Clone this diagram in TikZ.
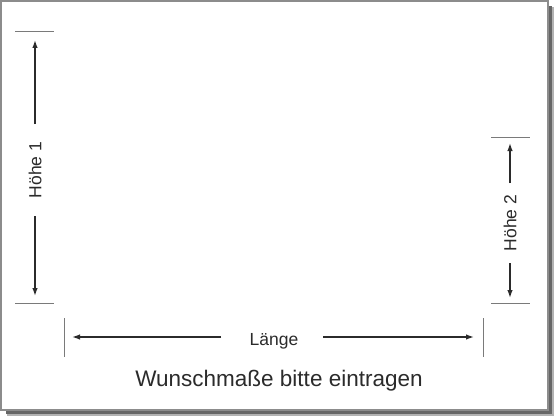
\documentclass[tikz,border=0pt]{standalone}
\usepackage{fontspec}
\setmainfont{Liberation Sans}
\usetikzlibrary{arrows.meta}
\definecolor{ink}{HTML}{2B2B2B}
\definecolor{tickgray}{HTML}{7A7A7A}
\definecolor{framegray}{HTML}{8C8C8C}
\tikzset{
  dimarrow/.style={draw=ink, line width=1.4pt, -{Latex[length=8pt,width=5.5pt]}},
  tickline/.style={draw=tickgray, line width=1pt},
  dimlabel/.style={text=ink, inner sep=0pt, font=\fontsize{17.5}{20}\selectfont},
  titlelabel/.style={text=ink, inner sep=0pt, font=\fontsize{22.5}{26}\selectfont},
}
\begin{document}
\begin{tikzpicture}[x=1pt,y=-1pt]
\useasboundingbox (0,0) rectangle (560,420);
\fill[white] (0,0) rectangle (560,420);
% shadow
\fill[black!30] (7,7) rectangle (554,416);
\fill[black!60] (6,6) rectangle (552,414);
% frame
\filldraw[fill=white, draw=framegray, line width=1.5pt] (1,1) rectangle (548,410);

% Höhe 1
\coordinate (h1a) at (15,32); \coordinate (h1b) at (54,32);
\coordinate (h1c) at (15,303); \coordinate (h1d) at (54,303);
\draw[tickline] (h1a) -- (h1b);
\draw[tickline] (h1c) -- (h1d);
\node[dimlabel, rotate=90] (h1) at (35,170) {Höhe 1};
\coordinate (h1top) at (35,40); \coordinate (h1topgap) at (35,124);
\coordinate (h1bot) at (35,296); \coordinate (h1botgap) at (35,216);
\draw[dimarrow] (h1topgap) -- (h1top);
\draw[dimarrow] (h1botgap) -- (h1bot);

% Höhe 2
\coordinate (h2a) at (491,137); \coordinate (h2b) at (530,137);
\coordinate (h2c) at (491,303); \coordinate (h2d) at (530,303);
\draw[tickline] (h2a) -- (h2b);
\draw[tickline] (h2c) -- (h2d);
\node[dimlabel, rotate=90] (h2) at (510,223) {Höhe 2};
\coordinate (h2top) at (510,143); \coordinate (h2topgap) at (510,183);
\coordinate (h2bot) at (510,298); \coordinate (h2botgap) at (510,263);
\draw[dimarrow] (h2topgap) -- (h2top);
\draw[dimarrow] (h2botgap) -- (h2bot);

% Länge
\coordinate (la) at (64,318); \coordinate (lb) at (64,357);
\coordinate (lc) at (483,318); \coordinate (ld) at (483,357);
\draw[tickline] (la) -- (lb);
\draw[tickline] (lc) -- (ld);
\node[dimlabel, anchor=base] (len) at (274,345) {Länge};
\coordinate (lleft) at (72,337); \coordinate (lleftgap) at (221,337);
\coordinate (lright) at (474,337); \coordinate (lrightgap) at (323,337);
\draw[dimarrow] (lleftgap) -- (lleft);
\draw[dimarrow] (lrightgap) -- (lright);

% title
\node[titlelabel, anchor=base] (title) at (279,386) {Wunschmaße bitte eintragen};
\end{tikzpicture}
\end{document}
